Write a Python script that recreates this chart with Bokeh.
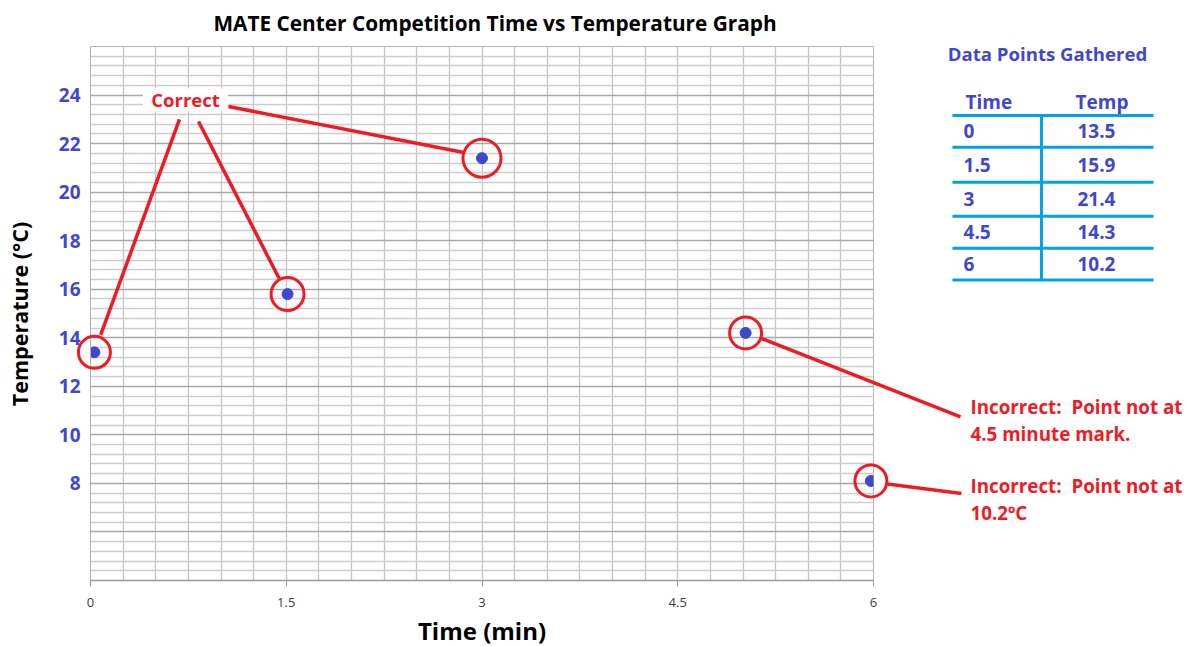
from bokeh.plotting import figure
from bokeh.models import FixedTicker, Range1d
from bokeh.core.properties import value
from bokeh.embed import file_html
from bokeh.resources import INLINE
import numpy as np

# ---------------- data ----------------
plotted_time = [0.03, 1.51, 3.0, 5.02, 5.98]      # where the points were drawn
plotted_temp = [13.4, 15.8, 21.4, 14.2, 8.1]
table_time = ["0", "1.5", "3", "4.5", "6"]         # data points gathered
table_temp = ["13.5", "15.9", "21.4", "14.3", "10.2"]
x_ticks = [0, 1.5, 3, 4.5, 6]
x_tick_labels = ["0", "1.5", "3", "4.5", "6"]
y_ticks = [8, 10, 12, 14, 16, 18, 20, 22, 24]

# ---------------- styles ----------------
RED = "#ED1C24"
BLUE = "#3F48CC"
CYAN = "#00A2E8"
FONT = "Open Sans"
ring_sizes = [32, 33, 38, 32, 32]

p = figure(width=1188, height=646,
           min_border_left=90, min_border_right=315,
           min_border_top=46, min_border_bottom=66,
           x_range=Range1d(0, 6), y_range=Range1d(4, 26),
           output_backend="svg", toolbar_location=None,
           background_fill_color="white", border_fill_color="white")

p.outline_line_color = "#B4B4B4"
p.outline_line_width = 1

# grids
p.xgrid.ticker = FixedTicker(ticks=list(np.arange(0, 6.001, 0.25)))
p.xgrid.grid_line_color = "#C4C4C4"
p.xgrid.grid_line_width = 1.3
major_y = list(range(4, 27, 2))
minor_y = [float(v) for v in np.round(np.arange(4, 26.001, 0.4), 2) if abs(v / 2 - round(v / 2)) > 1e-6]
p.ygrid.ticker = FixedTicker(ticks=major_y, minor_ticks=minor_y)
p.ygrid.grid_line_color = "#A8A8A8"
p.ygrid.grid_line_width = 1.3
p.ygrid.minor_grid_line_color = "#CDCDCD"
p.ygrid.minor_grid_line_width = 1.3

# x axis
xa = p.xaxis[0]
xa.ticker = FixedTicker(ticks=x_ticks)
xa.major_label_overrides = {t: l for t, l in zip(x_ticks, x_tick_labels)}
xa.axis_line_color = "#9A9A9A"
xa.axis_line_width = 1.5
xa.major_tick_in = 0
xa.major_tick_out = 6
xa.major_tick_line_color = "#9A9A9A"
xa.minor_tick_out = 0
xa.minor_tick_in = 0
xa.major_label_text_font = FONT
xa.major_label_text_font_size = "13px"
xa.major_label_text_color = "#404040"
xa.major_label_standoff = 11

# y axis
ya = p.yaxis[0]
ya.ticker = FixedTicker(ticks=y_ticks)
ya.axis_line_color = "#B0B0B0"
ya.major_tick_in = 0
ya.major_tick_out = 0
ya.minor_tick_in = 0
ya.minor_tick_out = 0
ya.major_label_text_font = FONT
ya.major_label_text_font_size = "19px"
ya.major_label_text_font_style = "bold"
ya.major_label_text_color = BLUE
ya.major_label_standoff = 10


def txt(x, y, text, color, align="left", size="18.5px", angle=0.0):
    p.text(x=[x], y=[y], text=[text], text_align=align, text_baseline="middle",
           text_font=value(FONT), text_font_size=size, text_font_style="bold",
           text_color=color, angle=angle, level="overlay")


# chart title and axis titles
txt(3.1, 26.98, "MATE Center Competition Time vs Temperature Graph", "black",
    align="center", size="20.8px")
txt(3.0, 1.92, "Time (min)", "black", align="center", size="24px")
txt(-0.545, 14.98, "Temperature (°C)", "black", align="center", size="21.5px", angle=np.pi / 2)

# white box behind "Correct"
p.rect(x=[0.728], y=[23.80], width=84, height=22, width_units="screen",
       height_units="screen", color="white")

# points and rings
p.scatter(plotted_time, plotted_temp, size=11, color=BLUE)
p.scatter(plotted_time, plotted_temp, marker="circle", size=ring_sizes, fill_color=None,
          line_color=RED, line_width=3, level="overlay")

# connector lines (annotation geometry)
connectors = [
    (1.057, 23.53, 2.870, 21.62),
    (0.682, 23.00, 0.078, 14.12),
    (0.828, 22.91, 1.445, 16.45),
    (5.140, 13.98, 6.667, 10.74),
    (6.106, 7.98, 6.674, 7.58),
]
p.segment(x0=[c[0] for c in connectors], y0=[c[1] for c in connectors],
          x1=[c[2] for c in connectors], y1=[c[3] for c in connectors],
          line_color=RED, line_width=3.5, level="overlay")

NOTE_SIZE = "18.8px"
txt(0.728, 23.80, "Correct", RED, align="center")
txt(6.743, 11.15, "Incorrect:\u00a0 Point not at", RED, size=NOTE_SIZE)
txt(6.743, 10.04, "4.5 minute mark.", RED, size=NOTE_SIZE)
txt(6.743, 7.91, "Incorrect:\u00a0 Point not at", RED, size=NOTE_SIZE)
txt(6.743, 6.80, "10.2ºC", RED, size=NOTE_SIZE)

# table of gathered data
txt(7.333, 25.71, "Data Points Gathered", BLUE, align="center", size="18.6px")
txt(6.705, 23.70, "Time", BLUE, size="19px")
txt(7.548, 23.70, "Temp", BLUE, size="19px")
row_y = [22.50, 21.11, 19.71, 18.35, 17.03]
for yv, t, v in zip(row_y, table_time, table_temp):
    txt(6.69, yv, t, BLUE, size="19px")
    txt(7.563, yv, v, BLUE, size="19px")
table_lines_y = [23.16, 21.85, 20.41, 19.01, 17.69, 16.38]
p.segment(x0=[6.605] * 6, y0=table_lines_y, x1=[8.146] * 6, y1=table_lines_y,
          line_color=CYAN, line_width=3, level="overlay")
p.segment(x0=[7.287], y0=[23.16], x1=[7.287], y1=[16.38],
          line_color=CYAN, line_width=3, level="overlay")

open("out.html", "w").write(file_html(p, INLINE))
